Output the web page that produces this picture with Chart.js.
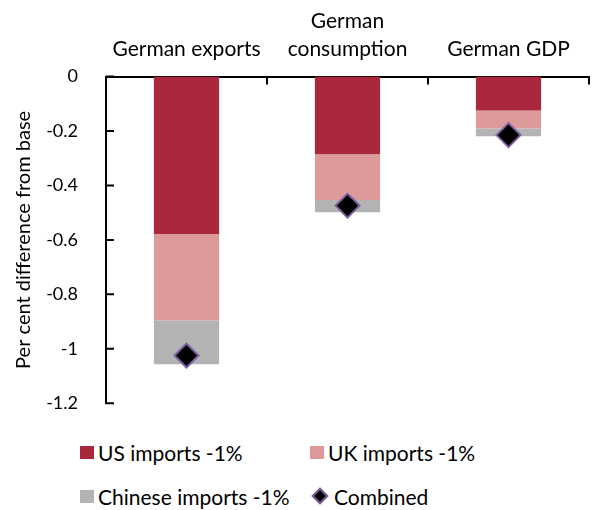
<!DOCTYPE html>
<html>
<head>
<meta charset="utf-8">
<script src="https://cdn.jsdelivr.net/npm/chart.js@4.4.1/dist/chart.umd.min.js"></script>
<style>
    body { margin: 0; background: #fff; }
    #wrap { position: relative; width: 603px; height: 510px; }
    canvas { position: absolute; left: 0; top: 0; }
    #legend {
        position: absolute; left: 80px; top: 440px;
        display: grid; grid-template-columns: 230px 200px; row-gap: 20px;
        font-family: Lato, sans-serif; font-size: 21px; color: #000;
    }
    .item { display: flex; align-items: center; white-space: nowrap; height: 24px; }
    .sw { width: 14px; height: 13px; margin-right: 4px; }
    .dia { width: 8px; height: 8px; margin: 0 8px 0 4px; background: #000; border: 2px solid #7d60a0; transform: rotate(45deg); }
</style>
</head>
<body>
<div id="wrap">
    <canvas id="chart" width="603" height="434"></canvas>
    <div id="legend"></div>
</div>
<script>
var categories = ["German exports", ["German", "consumption"], "German GDP"];
var usImports = [-0.578, -0.285, -0.125];
var ukImports = [-0.318, -0.168, -0.066];
var chineseImports = [-0.161, -0.045, -0.028];
var combined = [-1.025, -0.474, -0.215];

var fontFamily = "Lato, sans-serif";

// inward tick marks like the original
var innerTicks = {
    id: "innerTicks",
    afterDraw: function (chart) {
        var ctx = chart.ctx, area = chart.chartArea;
        var x = chart.scales.x, y = chart.scales.y;
        ctx.save();
        ctx.strokeStyle = "#000";
        ctx.lineWidth = 2;
        ctx.beginPath();
        y.ticks.forEach(function (t, i) {
            var py = y.getPixelForTick(i);
            ctx.moveTo(area.left, py);
            ctx.lineTo(area.left + 8, py);
        });
        for (var i = 0; i < x.ticks.length; i++) {
            var px = i < x.ticks.length - 1
                ? (x.getPixelForTick(i) + x.getPixelForTick(i + 1)) / 2
                : area.right;
            ctx.moveTo(px, area.top);
            ctx.lineTo(px, area.top + 8);
        }
        ctx.stroke();
        ctx.restore();
    }
};

var chart = new Chart(document.getElementById("chart"), {
    type: "bar",
    data: {
        labels: categories,
        datasets: [
            { label: "US imports -1%", data: usImports, backgroundColor: "#a9283e", stack: "s", order: 1 },
            { label: "UK imports -1%", data: ukImports, backgroundColor: "#dc9a9a", stack: "s", order: 1 },
            { label: "Chinese imports -1%", data: chineseImports, backgroundColor: "#b3b3b3", stack: "s", order: 1 },
            {
                label: "Combined", type: "line", data: combined, stack: "c", order: 0,
                showLine: false, pointStyle: "rectRot", pointRadius: 12, pointHoverRadius: 12,
                pointBackgroundColor: "#000", pointBorderColor: "#7d60a0", pointBorderWidth: 2
            }
        ]
    },
    options: {
        responsive: false,
        animation: false,
        layout: { padding: { left: 6, right: 3, top: 2, bottom: 0 } },
        plugins: { legend: { display: false }, tooltip: { enabled: false } },
        datasets: { bar: { categoryPercentage: 1, barPercentage: 0.405, borderWidth: 0 } },
        scales: {
            x: {
                position: "top",
                stacked: true,
                grid: { display: false },
                border: { display: true, color: "#000", width: 2 },
                ticks: { color: "#000", font: { family: fontFamily, size: 21, lineHeight: 1.3 }, padding: 6, maxRotation: 0 }
            },
            y: {
                stacked: true,
                min: -1.2,
                max: 0,
                afterFit: function (scale) { scale.width = 100; },
                grid: { display: false },
                border: { display: true, color: "#000", width: 2 },
                ticks: {
                    stepSize: 0.2, color: "#000", font: { family: fontFamily, size: 18 }, padding: 20,
                    callback: function (v) { return String(Number(v.toFixed(1))); }
                },
                title: {
                    display: true, text: "Per cent difference from base", color: "#000",
                    font: { family: fontFamily, size: 20 }, padding: { top: 6, bottom: 4 }
                }
            }
        }
    },
    plugins: [innerTicks]
});

// html legend built from the datasets
var legend = document.getElementById("legend");
chart.data.datasets.forEach(function (ds) {
    var item = document.createElement("div");
    item.className = "item";
    var sw = document.createElement("span");
    if (ds.type === "line") {
        sw.className = "dia";
    } else {
        sw.className = "sw";
        sw.style.background = ds.backgroundColor;
    }
    item.appendChild(sw);
    item.appendChild(document.createTextNode(ds.label));
    legend.appendChild(item);
});
</script>
</body>
</html>
